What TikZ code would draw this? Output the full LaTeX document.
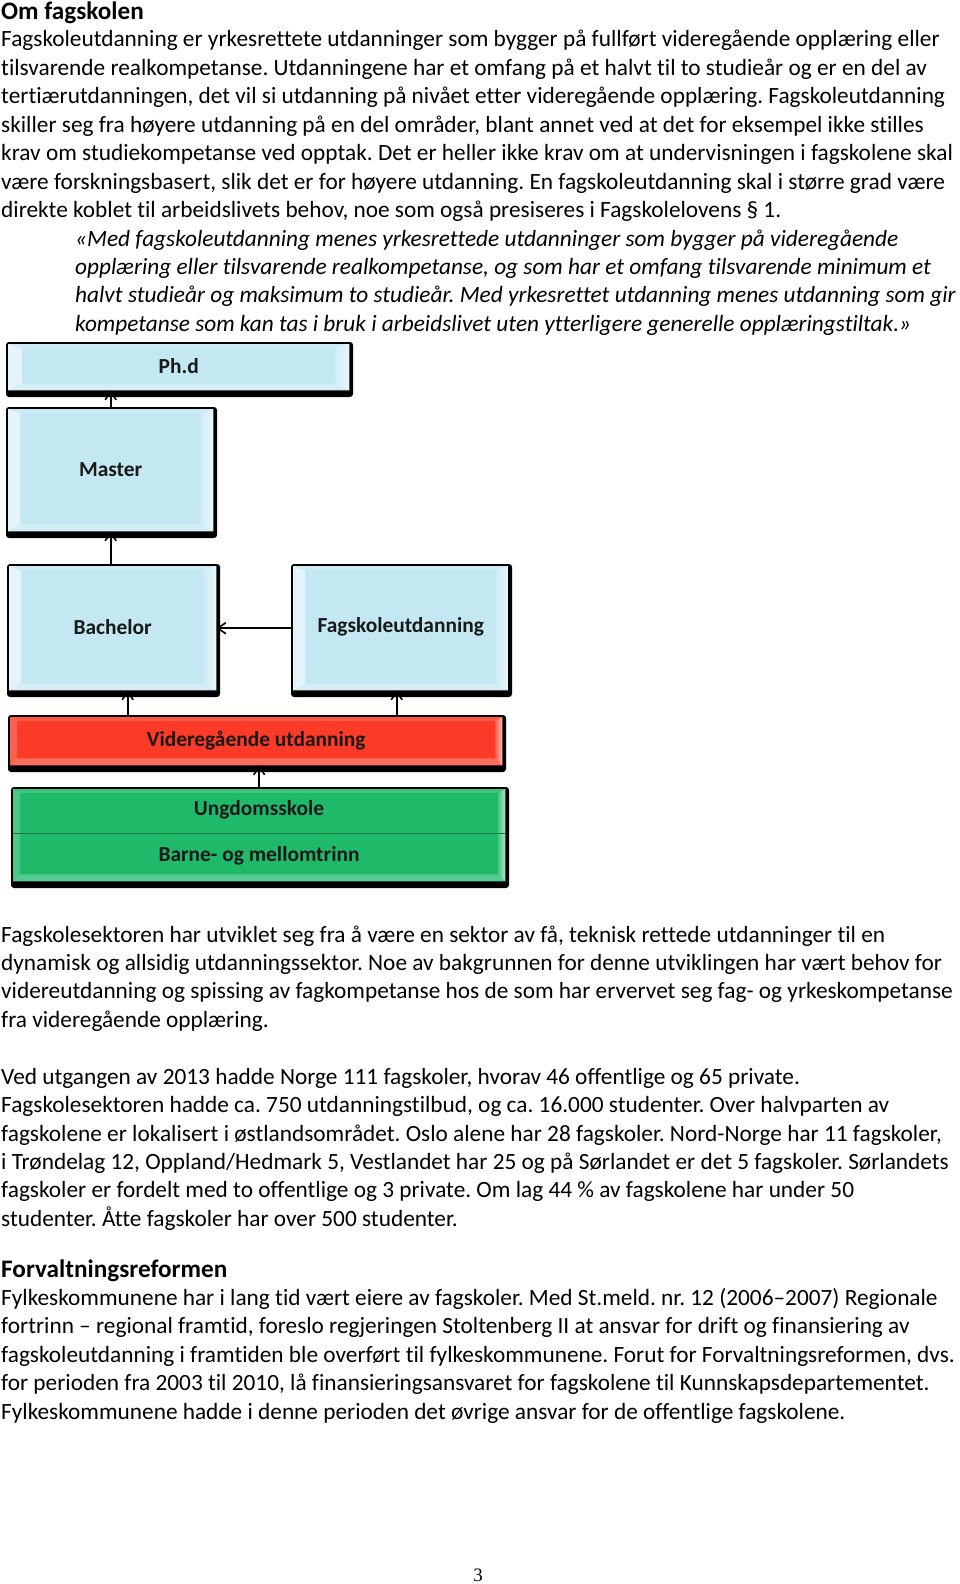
\documentclass[tikz,border=0pt]{standalone}
\usepackage{fontspec}
\setmainfont[Ligatures=NoCommon]{Carlito}
\newfontfamily\pagenumfont{Liberation Serif}
\usetikzlibrary{arrows.meta,calc}
\frenchspacing
\definecolor{bluebox}{HTML}{C4E8F2}
\definecolor{redbox}{HTML}{FB3B27}
\definecolor{greenbox}{HTML}{1FB96A}
\tikzset{
  txt/.style={anchor=base west,inner sep=0pt,font=\fontsize{23.3}{28}\selectfont},
  hd/.style={txt,font=\fontsize{25.2}{30}\selectfont\bfseries},
  qt/.style={txt,font=\fontsize{23.3}{28}\selectfont\itshape},
  boxlabel/.style={inner sep=0pt,font=\fontsize{21.4}{24}\selectfont\bfseries,text=black!90},
  conn/.style={line width=1.6pt,-{Straight Barb[length=8pt,width=11pt,line width=1.6pt]}},
}
% #1 name, #2 x1, #3 y1, #4 x2, #5 y2 (outer incl. shadow), #6 colour, #7 side bevel, #8 light mix, #9 label
\newcommand\bevbox[9]{%
  \fill[black,rounded corners=3pt] (#2,#3) rectangle (#4,#5);
  \node[fill=#6,inner sep=0pt,anchor=north west,minimum width={(#4)-(#2)-6},minimum height={(#5)-(#3)-9}] (#1) at ({#2+2},{#3+2}) {};
  \fill[#6!#8!white] (#1.north west) -- ++(#7,4) -- ($(#1.south west)+(#7,-7)$) -- (#1.south west) -- cycle;
  \fill[#6!85!white] (#1.north west) -- ++(#7,4) -- ($(#1.north east)+(-#7,4)$) -- (#1.north east) -- cycle;
  \fill[#6!75!white] (#1.south west) -- ++(#7,-7) -- ($(#1.south east)+(-#7,-7)$) -- (#1.south east) -- cycle;
  \shade[left color=#6!80!white,right color=#6!35!white] (#1.north east) -- ++(-#7,4) -- ($(#1.south east)+(-#7,-7)$) -- (#1.south east) -- cycle;
  \node[boxlabel] (#1-label) at ($(#1.center)+(0,-1)$) {#9};
}
\begin{document}
\begin{tikzpicture}[x=1pt,y=-1pt]
\useasboundingbox (0,0) rectangle (960,1584);
\fill[white] (0,0) rectangle (960,1584);

% ---------- top text ----------
\node[hd] (h1) at (1,19.5) {Om fagskolen};
\node[txt] (t1) at (1,47.0) {Fagskoleutdanning er yrkesrettete utdanninger som bygger på fullført videregående opplæring eller};
\node[txt] (t2) at (1,75.4) {tilsvarende realkompetanse. Utdanningene har et omfang på et halvt til to studieår og er en del av};
\node[txt] (t3) at (1,103.9) {tertiærutdanningen, det vil si utdanning på nivået etter videregående opplæring. Fagskoleutdanning};
\node[txt] (t4) at (1,132.3) {skiller seg fra høyere utdanning på en del områder, blant annet ved at det for eksempel ikke stilles};
\node[txt] (t5) at (1,160.7) {krav om studiekompetanse ved opptak. Det er heller ikke krav om at undervisningen i fagskolene skal};
\node[txt] (t6) at (1,189.2) {være forskningsbasert, slik det er for høyere utdanning. En fagskoleutdanning skal i større grad være};
\node[txt] (t7) at (1,217.6) {direkte koblet til arbeidslivets behov, noe som også presiseres i Fagskolelovens § 1.};
\node[qt] (q1) at (75,246.0) {«Med fagskoleutdanning menes yrkesrettede utdanninger som bygger på videregående};
\node[qt] (q2) at (75,274.4) {opplæring eller tilsvarende realkompetanse, og som har et omfang tilsvarende minimum et};
\node[qt] (q3) at (75,302.9) {halvt studieår og maksimum to studieår. Med yrkesrettet utdanning menes utdanning som gir};
\node[qt] (q4) at (75,331.3) {kompetanse som kan tas i bruk i arbeidslivet uten ytterligere generelle opplæringstiltak.»};

% ---------- diagram ----------
\bevbox{phd}{6}{342}{353}{397}{bluebox}{14}{45}{Ph.d}
\bevbox{master}{6}{407}{217}{538}{bluebox}{12}{45}{Master}
\bevbox{bachelor}{7}{564}{220}{697}{bluebox}{12}{45}{Bachelor}
\bevbox{fagskole}{291}{564}{512}{697}{bluebox}{12}{45}{Fagskoleutdanning}
\bevbox{vgs}{8}{715}{506}{772}{redbox}{7}{80}{Videregående utdanning}
\bevbox{grunn}{11}{787}{509}{888}{greenbox}{7}{80}{}
\draw[greenbox!65!black,line width=1pt] (grunn.west |- 0,833) -- (grunn.east |- 0,833);
\node[boxlabel] (ungdom) at (259,810) {Ungdomsskole};
\node[boxlabel] (barne) at (259,856) {Barne- og mellomtrinn};

\path (bachelor.south) ++(15,0) coordinate (bs);
\path (fagskole.south) ++(-4,0) coordinate (fs);
\draw[conn] (master.north) -- (phd.south -| master.north);
\draw[conn] (bachelor.north -| master.south) -- (master.south);
\draw[conn] (fagskole.west) -- (bachelor.east);
\draw[conn] (vgs.north -| bs) -- (bs);
\draw[conn] (vgs.north -| fs) -- (fs);
\draw[conn] (grunn.north) -- (vgs.south -| grunn.north);

% ---------- bottom text ----------
\node[txt] (b1) at (1,942.0) {Fagskolesektoren har utviklet seg fra å være en sektor av få, teknisk rettede utdanninger til en};
\node[txt] (b2) at (1,970.4) {dynamisk og allsidig utdanningssektor. Noe av bakgrunnen for denne utviklingen har vært behov for};
\node[txt] (b3) at (1,998.9) {videreutdanning og spissing av fagkompetanse hos de som har ervervet seg fag- og yrkeskompetanse};
\node[txt] (b4) at (1,1027.3) {fra videregående opplæring.};
\node[txt] (c1) at (1,1084.2) {Ved utgangen av 2013 hadde Norge 111 fagskoler, hvorav 46 offentlige og 65 private.};
\node[txt] (c2) at (1,1112.6) {Fagskolesektoren hadde ca. 750 utdanningstilbud, og ca. 16.000 studenter. Over halvparten av};
\node[txt] (c3) at (1,1141.0) {fagskolene er lokalisert i østlandsområdet. Oslo alene har 28 fagskoler. Nord-Norge har 11 fagskoler,};
\node[txt] (c4) at (1,1169.5) {i Trøndelag 12, Oppland/Hedmark 5, Vestlandet har 25 og på Sørlandet er det 5 fagskoler. Sørlandets};
\node[txt] (c5) at (1,1197.9) {fagskoler er fordelt med to offentlige og 3 private. Om lag 44 \% av fagskolene har under 50};
\node[txt] (c6) at (1,1226.3) {studenter. Åtte fagskoler har over 500 studenter.};
\node[hd] (h2) at (1,1277) {Forvaltningsreformen};
\node[txt] (d1) at (1,1305.4) {Fylkeskommunene har i lang tid vært eiere av fagskoler. Med St.meld. nr. 12 (2006–2007) Regionale};
\node[txt] (d2) at (1,1333.8) {fortrinn – regional framtid, foreslo regjeringen Stoltenberg II at ansvar for drift og finansiering av};
\node[txt] (d3) at (1,1362.3) {fagskoleutdanning i framtiden ble overført til fylkeskommunene. Forut for Forvaltningsreformen, dvs.};
\node[txt] (d4) at (1,1390.7) {for perioden fra 2003 til 2010, lå finansieringsansvaret for fagskolene til Kunnskapsdepartementet.};
\node[txt] (d5) at (1,1419.1) {Fylkeskommunene hadde i denne perioden det øvrige ansvar for de offentlige fagskolene.};

\node[anchor=base,inner sep=0pt,font=\pagenumfont\fontsize{19}{22}\selectfont] (pg) at (478,1581) {3};
\end{tikzpicture}
\end{document}
